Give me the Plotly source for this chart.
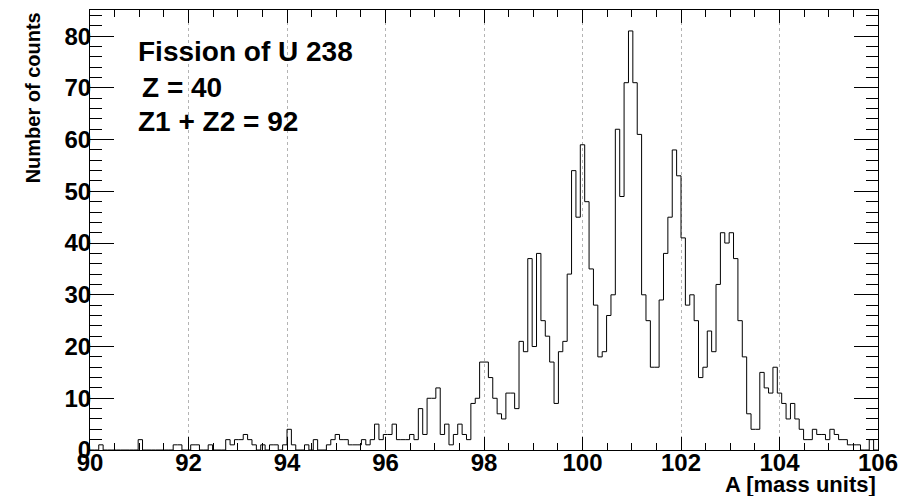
import numpy as np
import plotly.graph_objects as go

# Histogram binning: 180 equal bins over A = 90 .. 106
a_min, a_max, n_bins = 90.0, 106.0, 180

# Counts per bin, one list for every 4 mass units (45 bins each)
counts_90_94 = [0, 0, 1, 0, 0, 0, 0, 0, 0, 0,
                0, 2, 0, 0, 0, 0, 0, 0, 0, 1,
                1, 0, 0, 1, 1, 0, 0, 1, 0, 0,
                0, 2, 1, 2, 2, 3, 2, 1, 0, 1,
                0, 1, 1, 0, 1]
counts_94_98 = [4, 1, 0, 0, 1, 0, 2, 0, 0, 1,
                2, 3, 2, 2, 1, 1, 1, 2, 1, 2,
                5, 2, 3, 3, 5, 2, 2, 2, 3, 2,
                8, 3, 10, 10, 12, 3, 5, 1, 3, 5,
                3, 2, 9, 10, 17]
counts_98_102 = [17, 14, 10, 7, 6, 11, 11, 8, 21, 19,
                 37, 20, 38, 25, 22, 17, 9, 19, 21, 34,
                 54, 45, 59, 48, 35, 28, 18, 19, 26, 30,
                 62, 49, 71, 81, 71, 61, 30, 25, 16, 16,
                 29, 38, 45, 58, 53]
counts_102_106 = [41, 28, 30, 25, 14, 16, 23, 19, 32, 42,
                  40, 42, 37, 25, 18, 7, 4, 4, 15, 12,
                  11, 16, 11, 9, 6, 9, 6, 4, 2, 2,
                  4, 3, 3, 2, 4, 3, 2, 2, 1, 1,
                  1, 0, 0, 2, 0]

x_ticks = list(range(90, 107, 2))
text_lines = ["Fission of U 238", "Z = 40", "Z1 + Z2 = 92"]
x_title = "A [mass units]"
y_title = "Number of counts"

counts = counts_90_94 + counts_94_98 + counts_98_102 + counts_102_106
edges = np.linspace(a_min, a_max, n_bins + 1)
y_max = 1.05 * max(counts)

FONT = "Liberation Sans"

fig = go.Figure()
# Step outline of the histogram (ROOT "HIST" style)
fig.add_trace(go.Scatter(
    x=edges,
    y=counts + [counts[-1]],
    mode="lines",
    line=dict(shape="hv", color="black", width=1),
    hoverinfo="skip",
    showlegend=False,
))

label_font = dict(family=FONT, size=24, color="black", weight="bold")

fig.update_xaxes(
    range=[a_min, a_max],
    tickmode="array", tickvals=x_ticks,
    ticks="inside", ticklen=13, tickwidth=1, tickcolor="black",
    minor=dict(ticks="inside", ticklen=7, tickcolor="black",
               tickmode="linear", tick0=a_min, dtick=0.5, showgrid=False),
    showline=True, linecolor="black", linewidth=1, mirror="ticks",
    showgrid=True, gridcolor="#b4b4b4", griddash="dot", gridwidth=1,
    zeroline=False,
    tickfont=label_font,
    ticklabelstandoff=-9,
)
fig.update_yaxes(
    range=[0, y_max],
    tickmode="linear", tick0=0, dtick=10,
    ticks="inside", ticklen=24, tickwidth=1, tickcolor="black",
    minor=dict(ticks="inside", ticklen=12, tickcolor="black",
               tickmode="linear", tick0=0, dtick=2, showgrid=False),
    showline=True, linecolor="black", linewidth=1, mirror="ticks",
    showgrid=False, zeroline=False,
    tickfont=label_font,
    ticklabelstandoff=-7,
)

annotations = []
text_pos = [(0.059, 0.905), (0.064, 0.823), (0.059, 0.747)]
for txt, (px, py) in zip(text_lines, text_pos):
    annotations.append(dict(
        text=txt, xref="paper", yref="paper", x=px, y=py,
        xanchor="left", yanchor="middle", showarrow=False,
        font=dict(family=FONT, size=28, color="black", weight="bold"),
    ))
annotations.append(dict(
    text=x_title, xref="paper", yref="paper", x=1.0, y=-0.078,
    xanchor="right", yanchor="middle", showarrow=False,
    font=dict(family=FONT, size=22, color="black", weight="bold"),
))
annotations.append(dict(
    text=y_title, xref="paper", yref="paper", x=-0.0725, y=1.0,
    xanchor="center", yanchor="top", textangle=-90, showarrow=False,
    font=dict(family=FONT, size=20, color="black", weight="bold"),
))

fig.update_layout(
    width=910, height=496,
    margin=dict(l=90, r=32, t=10, b=46),
    paper_bgcolor="white", plot_bgcolor="white",
    showlegend=False,
    annotations=annotations,
)

fig.write_html("out.html")
